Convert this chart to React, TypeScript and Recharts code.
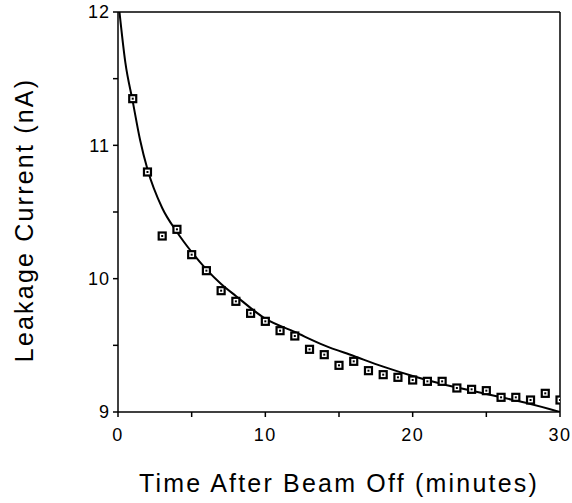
import { ComposedChart, Line, Scatter, XAxis, YAxis, ReferenceLine, Label } from 'recharts';

const times = [1, 2, 3, 4, 5, 6, 7, 8, 9, 10, 11, 12, 13, 14, 15, 16, 17, 18, 19, 20, 21, 22, 23, 24, 25, 26, 27, 28, 29, 30];
const currents = [
  11.35, 10.8, 10.32, 10.37, 10.18, 10.06, 9.91, 9.83, 9.74, 9.68,
  9.61, 9.57, 9.47, 9.43, 9.35, 9.38, 9.31, 9.28, 9.26, 9.24,
  9.23, 9.23, 9.18, 9.17, 9.16, 9.11, 9.11, 9.09, 9.14, 9.09,
];

// fitted curve
const fitTimes = [0.1, 0.5, 1, 1.5, 2, 3, 4, 5, 6, 7, 8, 10, 12, 14, 16, 18, 20, 22, 24, 26, 28, 30];
const fitCurrents = [12.0, 11.62, 11.33, 11.04, 10.82, 10.53, 10.35, 10.2, 10.07, 9.96, 9.87, 9.7, 9.6, 9.5, 9.42, 9.34, 9.27, 9.21, 9.16, 9.11, 9.06, 9.0];

const xTicks = [0, 5, 10, 15, 20, 25, 30];
const yTicks = [9, 9.5, 10, 10.5, 11, 11.5, 12];

const points = times.map((t, i) => ({ t, y: currents[i] }));
const fit = fitTimes.map((t, i) => ({ t, y: fitCurrents[i] }));

const font = 'Liberation Sans, Arial, sans-serif';

const SquareDot = (props: any) => {
  const { cx, cy } = props;
  if (cx == null || cy == null) return null;
  return (
    <g>
      <rect x={cx - 3.5} y={cy - 3.5} width={7} height={7} fill="#fff" stroke="#000" strokeWidth={2.2} />
      <rect x={cx - 1} y={cy - 1} width={2} height={2} fill="#000" />
    </g>
  );
};

export default function App() {
  return (
    <div style={{ position: 'absolute', left: 0, top: 0, background: '#fff' }}>
      <ComposedChart width={572} height={503} margin={{ top: 12, right: 12, bottom: 0, left: 0 }}>
        <XAxis
          dataKey="t"
          type="number"
          domain={[0, 30]}
          ticks={xTicks}
          tickFormatter={(v: number) => (v % 10 === 0 ? String(v) : '')}
          height={91}
          stroke="#000"
          strokeWidth={1.5}
          tickSize={5}
          tickMargin={11}
          tick={{ fill: '#000', fontSize: 18, fontFamily: font, letterSpacing: 1.5 }}
          allowDataOverflow
        >
          <Label
            value="Time After Beam Off (minutes)"
            position="insideBottom"
            offset={11}
            style={{ fill: '#000', fontSize: 25, fontFamily: font, letterSpacing: 2.2 }}
          />
        </XAxis>
        <YAxis
          type="number"
          domain={[9, 12]}
          ticks={yTicks}
          tickFormatter={(v: number) => (Number.isInteger(v) ? String(v) : '')}
          width={118}
          stroke="#000"
          strokeWidth={1.5}
          tickSize={5}
          tickMargin={3}
          tick={{ fill: '#000', fontSize: 18, fontFamily: font, letterSpacing: 1 }}
          allowDataOverflow
        >
          <Label
            content={() => (
              <text
                x={24}
                y={220}
                transform="rotate(-90 24 220)"
                textAnchor="middle"
                dominantBaseline="central"
                fill="#000"
                fontSize={25}
                fontFamily={font}
                letterSpacing={2.2}
              >
                Leakage Current (nA)
              </text>
            )}
          />
        </YAxis>
        <ReferenceLine y={12} stroke="#000" strokeWidth={1.5} />
        <ReferenceLine x={30} stroke="#000" strokeWidth={1.5} />
        <Line
          data={fit}
          dataKey="y"
          type="monotone"
          stroke="#000"
          strokeWidth={2}
          dot={false}
          activeDot={false}
          isAnimationActive={false}
        />
        <Scatter data={points} dataKey="y" shape={<SquareDot />} isAnimationActive={false} />
      </ComposedChart>
    </div>
  );
}
